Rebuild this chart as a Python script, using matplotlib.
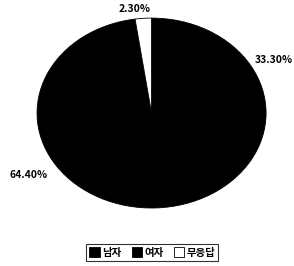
import matplotlib.pyplot as plt
from matplotlib.patches import Patch

plt.rcParams['font.family'] = ['Noto Sans CJK KR', 'DejaVu Sans']

labels = ["남자", "여자", "무응답"]
shares = [33.3, 64.4, 2.3]
pct_text = ["33.30%", "64.40%", "2.30%"]
colors = ["black", "black", "white"]

fig = plt.figure(figsize=(2.94, 2.66), dpi=100)
ax = fig.add_axes([0.126, 0.218, 0.779, 0.714])
wedges, texts = ax.pie(shares, labels=pct_text, colors=colors, startangle=90,
                       counterclock=False,
                       wedgeprops=dict(edgecolor="black", linewidth=0.6),
                       textprops=dict(fontsize=7.5, fontweight="bold"))
ax.set_aspect("auto")
ax.set_xlim(-1, 1)
ax.set_ylim(-1, 1)
# label spots as in the reference
spots = [(1.07, 0.56), (-1.07, -0.65), (-0.145, 1.095)]
for t, xy in zip(texts, spots):
    t.set_position(xy)
    t.set_ha("center")
    t.set_va("center")

handles = [Patch(facecolor=c, edgecolor="black", linewidth=0.6) for c in colors]
leg = fig.legend(handles, labels, loc="lower center", bbox_to_anchor=(0.518, 0.0),
                 ncol=3, frameon=True, fancybox=False,
                 handlelength=1.0, handleheight=1.0, handletextpad=0.2,
                 columnspacing=1.0, borderpad=0.3,
                 prop=dict(size=7.5, weight="bold"))
leg.get_frame().set_edgecolor("black")
leg.get_frame().set_linewidth(0.8)

fig.savefig("out.png", dpi=100)
